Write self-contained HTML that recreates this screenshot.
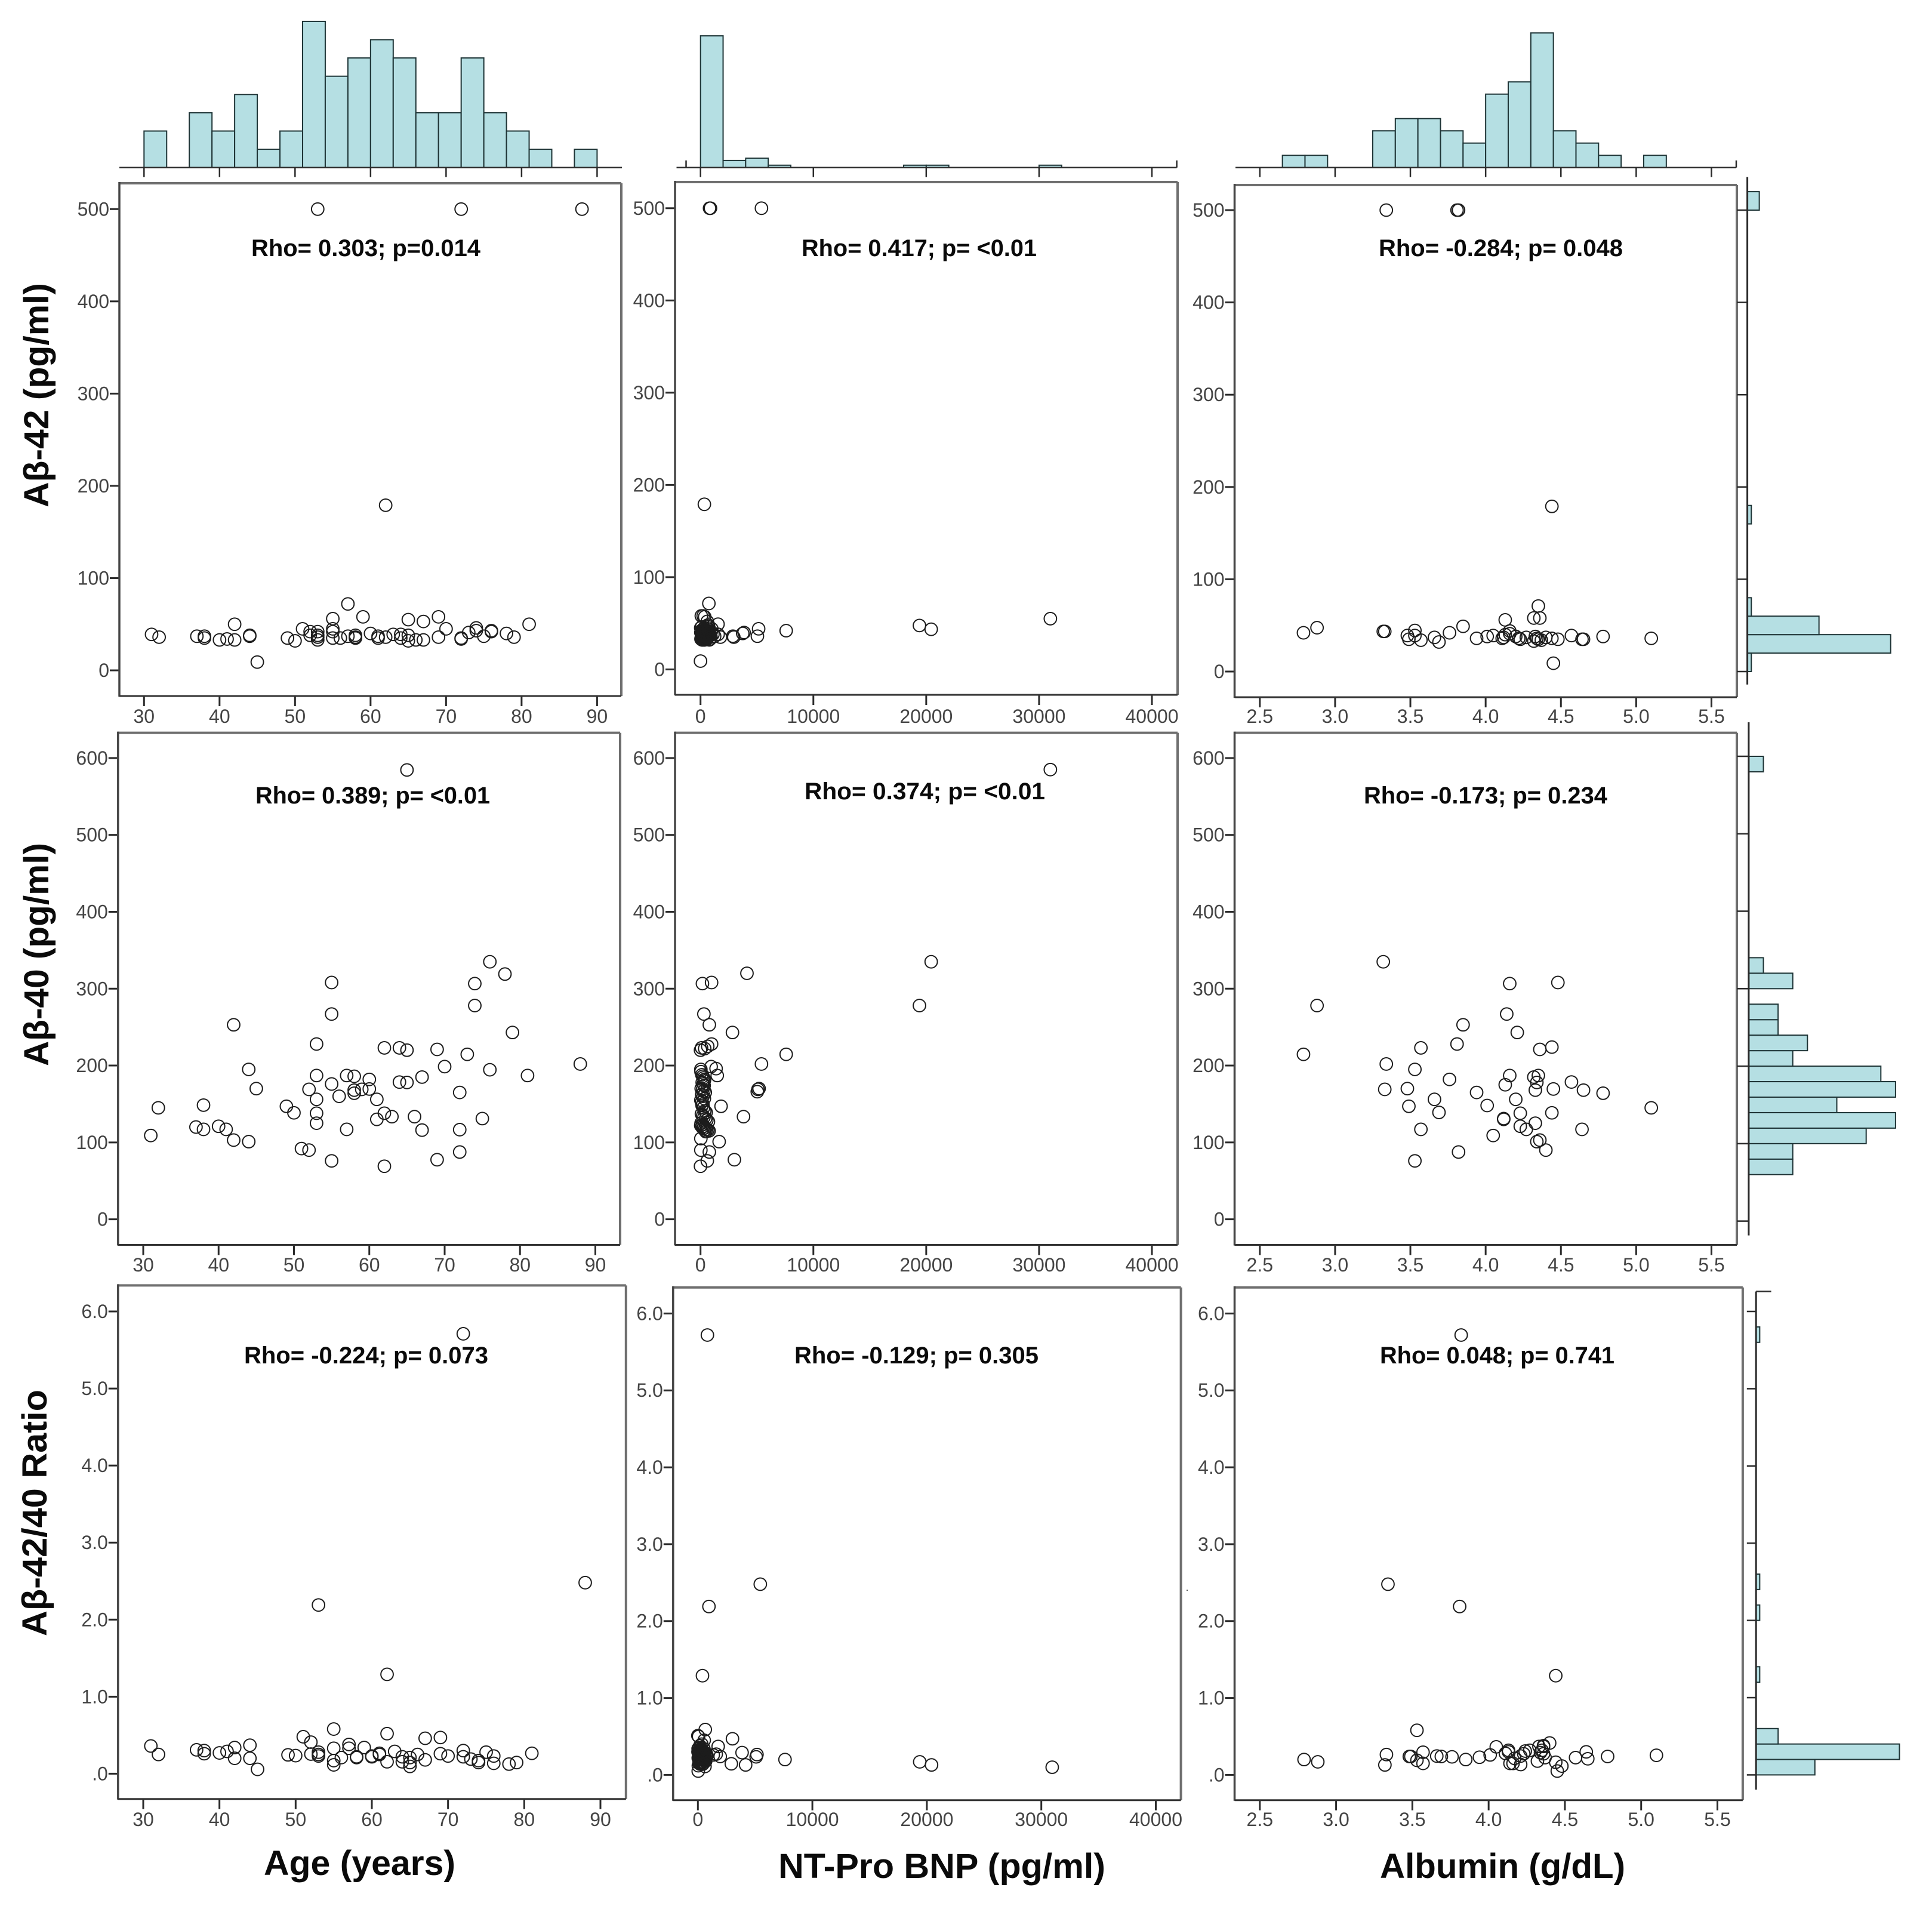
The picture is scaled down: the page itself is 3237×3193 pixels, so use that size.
<!DOCTYPE html>
<html lang="en">
<head>
<meta charset="utf-8">
<title>Amyloid beta correlation scatter matrix</title>
<style>
html,body{margin:0;padding:0;background:#fff;}
svg{display:block;}
text{font-family:"Liberation Sans",Arial,sans-serif;}
.tick{font-size:32px;fill:#454545;}
.rho{font-size:40px;font-weight:700;fill:#0a0a0a;}
.axt{font-size:58px;font-weight:700;fill:#0a0a0a;}
</style>
</head>
<body>
<svg id="chart" xmlns="http://www.w3.org/2000/svg" width="3237" height="3193" viewBox="0 0 3237 3193">
<rect x="0" y="0" width="3237" height="3193" fill="#ffffff"/>
<g id="marks"></g>

<text class="rho" x="421" y="429" textLength="384" lengthAdjust="spacingAndGlyphs">Rho= 0.303; p=0.014</text>
<text class="rho" x="1343" y="429" textLength="394" lengthAdjust="spacingAndGlyphs">Rho= 0.417; p= &lt;0.01</text>
<text class="rho" x="2310" y="429" textLength="409" lengthAdjust="spacingAndGlyphs">Rho= -0.284; p= 0.048</text>
<text class="rho" x="428" y="1346" textLength="393" lengthAdjust="spacingAndGlyphs">Rho= 0.389; p= &lt;0.01</text>
<text class="rho" x="1348" y="1339" textLength="403" lengthAdjust="spacingAndGlyphs">Rho= 0.374; p= &lt;0.01</text>
<text class="rho" x="2285" y="1346" textLength="408" lengthAdjust="spacingAndGlyphs">Rho= -0.173; p= 0.234</text>
<text class="rho" x="409" y="2284" textLength="409" lengthAdjust="spacingAndGlyphs">Rho= -0.224; p= 0.073</text>
<text class="rho" x="1331" y="2284" textLength="409" lengthAdjust="spacingAndGlyphs">Rho= -0.129; p= 0.305</text>
<text class="rho" x="2312" y="2284" textLength="393" lengthAdjust="spacingAndGlyphs">Rho= 0.048; p= 0.741</text>

<text class="axt" transform="translate(81 850) rotate(-90)" textLength="376" lengthAdjust="spacingAndGlyphs">Aβ-42 (pg/ml)</text>
<text class="axt" transform="translate(81 1786) rotate(-90)" textLength="374" lengthAdjust="spacingAndGlyphs">Aβ-40 (pg/ml)</text>
<text class="axt" transform="translate(78 2741) rotate(-90)" textLength="413" lengthAdjust="spacingAndGlyphs">Aβ-42/40 Ratio</text>
<text class="axt" x="442" y="3141" textLength="321" lengthAdjust="spacingAndGlyphs">Age (years)</text>
<text class="axt" x="1304" y="3146" textLength="548" lengthAdjust="spacingAndGlyphs">NT-Pro BNP (pg/ml)</text>
<text class="axt" x="2312" y="3146" textLength="411" lengthAdjust="spacingAndGlyphs">Albumin (g/dL)</text>
<rect x="1988" y="2663" width="2" height="2" fill="#555"/>
</svg>

<script>
/* Tick labels */
const ageTicks = ['30','40','50','60','70','80','90'];
const bnpTicks = ['0','10000','20000','30000','40000'];
const albTicks = ['2.5','3.0','3.5','4.0','4.5','5.0','5.5'];
const a42Ticks = ['0','100','200','300','400','500'];
const a40Ticks = ['0','100','200','300','400','500','600'];
const ratioTicks = ['.0','1.0','2.0','3.0','4.0','5.0','6.0'];

/* Marginal histogram counts */
const ageBinStart = 30, ageBinWidth = 3;
const ageCounts = [2,0,3,2,4,1,2,8,5,6,7,6,3,3,6,3,2,1,0,1];
const bnpBinStart = 0, bnpBinWidth = 2000;
const bnpCounts = [56,3,4,1,0,0,0,0,0,1,1,0,0,0,0,1];
const albBinStart = 2.65, albBinWidth = 0.15;
const albCounts = [1,1,0,0,3,4,4,3,2,6,7,11,3,2,1,0,1];
const a42BinWidth = 20;
const a42Counts = [1,36,18,1,0,0,0,0,1,0,0,0,0,0,0,0,0,0,0,0,0,0,0,0,0,3];
const a40BinWidth = 20;
const a40Counts = [0,0,0,3,3,8,10,6,10,9,3,4,2,2,0,3,1,0,0,0,0,0,0,0,0,0,0,0,0,1];
const ratioBinWidth = 0.2;
const ratioCounts = [16,39,6,0,0,0,1,0,0,0,1,0,1,0,0,0,0,0,0,0,0,0,0,0,0,0,0,0,1];

/* Row 1: A-beta 42 */
const a42AgeX = [53,72,88,62,45,31,32,37,38,38,40,41,42,42,44,44,49,50,51,52,52,53,53,53,53,55,55,55,55,56,57,57,58,58,58,59,60,61,61,62,63,64,64,65,65,65,66,67,67,69,69,70,72,72,73,74,74,75,76,76,78,79,81];
const a42AgeY = [500,500,500,179,9,39,36,37,37,35,33,34,33,50,37,38,35,32,45,42,38,42,38,36,33,56,45,42,35,35,72,37,38,36,35,58,40,37,35,36,39,39,35,55,38,32,33,53,33,58,36,45,35,34,41,46,43,37,43,42,40,36,50];
const a42BnpX = [800,880,5400,340,0,740,230,70,370,600,700,1000,1550,1560,1760,2870,2950,3740,3860,5150,5040,7590,19400,20440,31000,
 20,60,90,120,150,180,210,240,270,300,330,360,390,420,450,480,510,540,570,600,40,80,130,170,220,260,310,350,400,440,490,530,30,100,160,230,280,340,410,470,550,620,680,750,850,950,1100,1250,
 650,720,790,860,930,640,710,780];
const a42BnpY = [500,500,500,179,9,71.5,58,58,57,52,48,44,49,38,35,36,35,39,40,44,36,42,47.6,43.5,55,
 45,42,38,34,32,36,40,44,41,37,33,32,35,39,43,42,38,34,33,36,33,35,37,39,42,34,32,36,40,33,35,37,40,46,32,34,38,43,36,33,40,35,38,36,37,41,38,36,
 44,42,40,33,35,48,46,32];
const a42AlbX = [3.34,3.81,3.82,4.44,4.45,4.35,4.32,4.36,4.13,2.88,2.79,3.32,3.33,3.48,3.49,3.53,3.53,3.57,3.66,3.69,3.76,3.85,3.94,4.01,4.05,4.11,4.12,4.13,4.16,4.16,4.2,4.22,4.23,4.27,4.32,4.33,4.34,4.35,4.37,4.4,4.44,4.48,4.57,4.64,4.65,4.78,5.1];
const a42AlbY = [500,500,500,179,9,71,58,58,56,47.5,42,43.5,43.5,39,35,44.5,39,34,37,32,42,49,36,38,39,36,37,40,44,41,38,36,35,37,33,38,36,35,34,37,36,35,39,35,35,38,36];

/* Row 2: A-beta 40 */
const a40AgeX = [65,32,31,37,38,38,40,41,42,42,44,44,45,49,50,51,52,52,53,53,53,53,53,55,55,55,55,56,57,57,58,58,58,59,60,60,61,61,62,62,62,63,64,64,65,65,66,67,67,69,69,70,72,72,72,73,74,74,75,76,76,78,79,81,88];
const a40AgeY = [584.5,145,109,120,117,148.5,121,117,103,253,101,195,170,147,138.5,92,90,169,228,187,156,138,125,308,267,176,76,160,187,117,186,168,164,169,169.5,182,156,130,223,138,69,133.5,223,178.5,220,178,133.5,185,116,221,77.5,198.6,165,116.6,87.5,214.6,306.6,278,131,335,194.5,319,243,187,202];
const a40BnpX = [31000,20440,19400,4115,170,980,300,780,2830,980,640,0,90,370,7590,5400,940,1380,30,1480,5090,5190,5030,1820,3810,1650,3000,780,600,0,30,30,
 40,120,200,280,360,150,250,320,60,180,300,420,100,220,340,30,140,260,380,500,80,200,310,450,560,700,50,170,290,410,530,650,760,20,130,240,360,470,90,210,330];
const a40BnpY = [585,335,278,320,306.6,308,267,253,243,228,225,220,223,222,214.6,202,198.6,196,195,187,169,170,166,147,133.5,101,77.5,87.5,76,69,90,105,
 192,188,186,184,182,178,176,174,170,169,167,165,162,160,157,155,148,145,141,139,137,135,133,131,129,127,125,123,121,119,117,116,115,122,120,118,116,114,152,150,180];
const a40AlbX = [3.32,2.88,4.16,4.48,4.14,3.85,4.21,3.81,3.57,4.36,4.44,2.79,3.34,3.53,4.16,4.35,4.32,3.76,4.34,4.57,4.13,3.33,3.48,4.33,4.45,4.65,4.78,3.94,3.66,4.2,4.01,3.49,5.1,3.69,4.23,4.44,4.12,4.12,4.33,4.23,4.27,3.57,4.64,4.05,4.34,4.36,4.4,3.82,3.53];
const a40AlbY = [335,278,306.6,308,267,253,243,228,223,221,224,214.6,202,195,187,187,185,182,178,178.6,175,169,170,168,169.5,168,164,165,156,156,148,147,145,139,138,138.5,131,130,125,121,117,117,117,109,101,103,90,87.5,76];

/* Row 3: A-beta 42/40 ratio */
const ratioAgeX = [72,88,53,62,55,62,51,69,67,52,57,31,44,59,42,57,55,37,38,41,72,63,75,40,81,61,53,66,32,38,53,53,69,76,64,49,50,52,70,72,58,58,60,60,56,61,44,42,73,74,74,65,55,67,62,64,65,76,79,78,55,65,45];
const ratioAgeY = [5.71,2.48,2.19,1.29,0.58,0.52,0.48,0.47,0.46,0.41,0.38,0.36,0.37,0.34,0.34,0.33,0.33,0.31,0.30,0.29,0.30,0.29,0.28,0.27,0.265,0.265,0.28,0.25,0.25,0.26,0.25,0.23,0.26,0.23,0.22,0.245,0.235,0.255,0.23,0.22,0.22,0.21,0.22,0.23,0.21,0.25,0.2,0.2,0.19,0.17,0.145,0.21,0.17,0.18,0.155,0.155,0.145,0.135,0.145,0.125,0.115,0.095,0.057];
const ratioBnpX = [830,5450,965,400,30950,19380,20410,7610,3020,3860,2920,4170,5160,5090,1770,1950,1600,1340,643,0,60,550,620,30,
 10,50,90,130,170,210,250,290,330,370,410,450,20,70,110,150,190,230,270,310,350,390,430,30,80,120,160,200,240,280,320,360,400,440,40,100,180,260,340,420,
 500,560,620,680,740,520,600,660,720,480,540,800];
const ratioBnpY = [5.72,2.48,2.19,1.29,0.1,0.17,0.13,0.2,0.47,0.29,0.145,0.13,0.265,0.235,0.37,0.24,0.27,0.26,0.59,0.51,0.5,0.45,0.11,0.05,
 0.3,0.28,0.26,0.24,0.22,0.2,0.18,0.16,0.3,0.28,0.26,0.24,0.34,0.32,0.3,0.28,0.26,0.24,0.22,0.2,0.18,0.16,0.14,0.22,0.2,0.18,0.16,0.14,0.36,0.34,0.32,0.3,0.28,0.26,0.12,0.15,0.38,0.33,0.4,0.22,
 0.3,0.26,0.22,0.18,0.24,0.34,0.28,0.2,0.28,0.15,0.19,0.25];
const ratioAlbX = [3.82,3.34,3.81,4.44,3.53,2.79,2.88,3.33,3.32,3.48,3.49,3.53,3.57,3.57,3.66,3.69,3.76,3.85,3.94,4.01,4.05,4.11,4.13,4.13,4.14,4.16,4.17,4.21,4.21,4.23,4.24,4.27,4.32,4.33,4.34,4.35,4.36,4.36,4.37,4.36,4.4,4.44,4.45,4.48,4.57,4.64,4.65,4.78,5.1];
const ratioAlbY = [5.72,2.48,2.19,1.29,0.58,0.2,0.17,0.265,0.13,0.24,0.24,0.19,0.295,0.15,0.245,0.24,0.235,0.2,0.23,0.26,0.365,0.28,0.32,0.3,0.15,0.15,0.215,0.135,0.245,0.275,0.31,0.32,0.18,0.37,0.29,0.32,0.37,0.275,0.225,0.38,0.415,0.165,0.05,0.115,0.225,0.3,0.21,0.24,0.255];

const NS = 'http://www.w3.org/2000/svg';
const root = document.getElementById('marks');
function mk(tag, attrs){
  const el = document.createElementNS(NS, tag);
  for (const k in attrs) el.setAttribute(k, attrs[k]);
  root.appendChild(el);
  return el;
}
function scale(v0, p0, v1, p1){
  return function(v){ return p0 + (v - v0) * (p1 - p0) / (v1 - v0); };
}
function line(x1, y1, x2, y2, color, width, name){
  const el = mk('line', {x1:x1, y1:y1, x2:x2, y2:y2, stroke:color, 'stroke-width':width});
  
  
  return el;
}
function label(x, y, anchor, str, name){
  const el = mk('text', {x:x, y:y, 'text-anchor':anchor, 'class':'tick'});
  el.textContent = str;
  
  
  return el;
}

const BAR_FILL = '#b5dfe3', BAR_STROKE = '#1e3436', AXIS = '#2b2b2b', FRAME = '#6f6f6f';

function drawPanel(p){
  const sx = scale(p.xv[0], p.xp[0], p.xv[1], p.xp[1]);
  const sy = scale(p.yv[0], p.yp[0], p.yv[1], p.yp[1]);
  p.xTicks.forEach(function(t){
    const v = parseFloat(t);
    line(sx(v), p.b, sx(v), p.b + 17, AXIS, 3, 'x-tick');
    label(sx(v), p.labelY, 'middle', t, 'x-tick-label');
  });
  p.yTicks.forEach(function(t){
    const v = parseFloat(t);
    line(p.l - 16, sy(v), p.l, sy(v), AXIS, 3, 'y-tick');
    label(p.l - 17, sy(v) + 11, 'end', t, 'y-tick-label');
  });
  const n = Math.min(p.xs.length, p.ys.length);
  for (let i = 0; i < n; i++){
    const c = mk('circle', {cx:sx(p.xs[i]), cy:sy(p.ys[i]), r:10.4, fill:'none', stroke:'#1c1c1c', 'stroke-width':2});
    
    
  }
  line(p.l, p.t, p.r, p.t, FRAME, 4, 'panel-frame-top');
  line(p.r, p.t, p.r, p.b, FRAME, 4, 'panel-frame-right');
  line(p.l, p.t - 2, p.l, p.b + 1, '#454545', 3.5, 'panel-frame-left');
  line(p.l, p.b, p.r, p.b, '#333333', 3, 'panel-frame-bottom');
}

function drawTopHist(h){
  const sx = scale(h.xv[0], h.xp[0], h.xv[1], h.xp[1]);
  h.counts.forEach(function(c, i){
    if (!c) return;
    const x0 = sx(h.start + i * h.width), x1 = sx(h.start + (i + 1) * h.width);
    const bar = mk('rect', {x:x0, y:h.base - c * h.unit, width:x1 - x0, height:c * h.unit, fill:BAR_FILL, stroke:BAR_STROKE, 'stroke-width':2});
    
    
  });
  line(h.l, h.base, h.r, h.base, AXIS, 2.5, 'top-histogram-axis');
  h.ticks.forEach(function(t){
    const v = parseFloat(t);
    line(sx(v), h.base, sx(v), h.base + 16, AXIS, 2.5, 'top-histogram-tick');
  });
  h.stubs.forEach(function(px){
    line(px, h.base - 12, px, h.base, AXIS, 2.5, 'top-histogram-end-stub');
  });
}

function drawSideHist(h){
  const sy = scale(h.yv[0], h.yp[0], h.yv[1], h.yp[1]);
  h.counts.forEach(function(c, i){
    if (!c) return;
    const y0 = sy(i * h.width), y1 = sy((i + 1) * h.width);
    const bar = mk('rect', {x:h.x, y:y1, width:c * h.unit, height:y0 - y1, fill:BAR_FILL, stroke:BAR_STROKE, 'stroke-width':2});
    
    
  });
  line(h.x, h.t, h.x, h.b, AXIS, 3, 'side-histogram-axis');
  h.ticks.forEach(function(t){
    const v = parseFloat(t);
    line(h.tickFrom, sy(v), h.x, sy(v), AXIS, 2.5, 'side-histogram-tick');
  });
  if (h.cap) line(h.x, h.t, h.cap, h.t, AXIS, 2.5, 'side-histogram-cap');
}

const ageV = [30,90], bnpV = [0,40000], albV = [2.5,5.5];

[
 {l:200,r:1041,t:307,b:1166,labelY:1211,xv:ageV,xp:[241.3,1000.4],yv:[0,500],yp:[1123,350.3],xTicks:ageTicks,yTicks:a42Ticks,xs:a42AgeX,ys:a42AgeY},
 {l:1131,r:1973,t:305,b:1164,labelY:1211,xv:bnpV,xp:[1173.7,1930],yv:[0,500],yp:[1121.4,348.8],xTicks:bnpTicks,yTicks:a42Ticks,xs:a42BnpX,ys:a42BnpY},
 {l:2068.5,r:2910,t:310,b:1168,labelY:1211,xv:albV,xp:[2110.8,2867.5],yv:[0,500],yp:[1125,352],xTicks:albTicks,yTicks:a42Ticks,xs:a42AlbX,ys:a42AlbY},
 {l:197.8,r:1039,t:1227.6,b:2085.5,labelY:2130,xv:ageV,xp:[240,997.5],yv:[0,600],yp:[2042.6,1269.9],xTicks:ageTicks,yTicks:a40Ticks,xs:a40AgeX,ys:a40AgeY},
 {l:1131,r:1973,t:1227.6,b:2085.5,labelY:2130,xv:bnpV,xp:[1173.7,1930],yv:[0,600],yp:[2042.6,1269.9],xTicks:bnpTicks,yTicks:a40Ticks,xs:a40BnpX,ys:a40BnpY},
 {l:2068.5,r:2910,t:1227.6,b:2085.5,labelY:2130,xv:albV,xp:[2110.8,2867.5],yv:[0,600],yp:[2042.6,1269.9],xTicks:albTicks,yTicks:a40Ticks,xs:a40AlbX,ys:a40AlbY},
 {l:197.8,r:1048.8,t:2153.4,b:3013.7,labelY:3059,xv:ageV,xp:[240,1006],yv:[0,6],yp:[2971.4,2197],xTicks:ageTicks,yTicks:ratioTicks,xs:ratioAgeX,ys:ratioAgeY},
 {l:1127.8,r:1978.6,t:2156.8,b:3015.7,labelY:3059,xv:bnpV,xp:[1169.3,1936.5],yv:[0,6],yp:[2973.4,2200.4],xTicks:bnpTicks,yTicks:ratioTicks,xs:ratioBnpX,ys:ratioBnpY},
 {l:2068.5,r:2919.9,t:2156.8,b:3015.7,labelY:3059,xv:albV,xp:[2110.8,2877.5],yv:[0,6],yp:[2973.4,2200.4],xTicks:albTicks,yTicks:ratioTicks,xs:ratioAlbX,ys:ratioAlbY}
].forEach(drawPanel);

[
 {l:200,r:1042,base:280.7,xv:ageV,xp:[241.3,1000.4],start:ageBinStart,width:ageBinWidth,counts:ageCounts,unit:30.6,ticks:ageTicks,stubs:[]},
 {l:1133.5,r:1971.6,base:280.7,xv:bnpV,xp:[1173.7,1930],start:bnpBinStart,width:bnpBinWidth,counts:bnpCounts,unit:3.94,ticks:bnpTicks,stubs:[1149.5,1971.6]},
 {l:2070,r:2909,base:280.7,xv:albV,xp:[2110.8,2867.5],start:albBinStart,width:albBinWidth,counts:albCounts,unit:20.5,ticks:albTicks,stubs:[2909]}
].forEach(drawTopHist);

[
 {x:2927.6,t:296.6,b:1146.7,tickFrom:2910,yv:[0,500],yp:[1125,352],width:a42BinWidth,counts:a42Counts,unit:6.67,ticks:a42Ticks},
 {x:2929.9,t:1210,b:2069.6,tickFrom:2910,yv:[0,600],yp:[2045.6,1267],width:a40BinWidth,counts:a40Counts,unit:24.6,ticks:a40Ticks},
 {x:2942.2,t:2163.5,b:2998,tickFrom:2926.8,yv:[0,6],yp:[2973.4,2197],width:ratioBinWidth,counts:ratioCounts,unit:6.16,ticks:ratioTicks,cap:2967.6}
].forEach(drawSideHist);
</script>
</body>
</html>
